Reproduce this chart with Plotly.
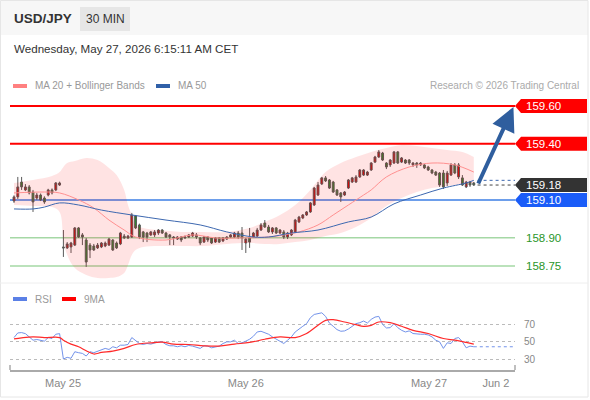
import plotly.graph_objects as go

W, H = 590, 400
FONT = "Liberation Sans, Arial, sans-serif"

# ---------------- data ----------------
candle_open = [159.095, 159.117, 159.196, 159.154, 159.170, 159.143, 159.111, 159.127, 159.111, 159.127,
               159.154, 159.154, 159.180, 158.851, 158.846, 158.851, 158.861, 158.952, 158.915, 158.888,
               158.861, 158.856, 158.846, 158.851, 158.856, 158.861, 158.888, 158.872, 158.867, 158.909,
               158.899, 158.904, 159.016, 158.968, 158.931, 158.925, 158.915, 158.915, 158.925, 158.941,
               158.925, 158.915, 158.904, 158.893, 158.904, 158.899, 158.904, 158.909, 158.915, 158.899,
               158.877, 158.904, 158.899, 158.877, 158.899, 158.883, 158.893, 158.904, 158.904, 158.925,
               158.925, 158.872, 158.899, 158.904, 158.909, 158.941, 158.978, 158.957, 158.931, 158.952,
               158.925, 158.931, 158.904, 158.915, 158.931, 158.984, 159.005, 159.021, 159.037, 159.074,
               159.127, 159.186, 159.218, 159.207, 159.196, 159.154, 159.138, 159.127, 159.164, 159.196,
               159.196, 159.223, 159.233, 159.233, 159.260, 159.302, 159.329, 159.350, 159.297, 159.287,
               159.297, 159.356, 159.302, 159.313, 159.313, 159.287, 159.297, 159.287, 159.287, 159.276,
               159.260, 159.249, 159.244, 159.244, 159.191, 159.233, 159.287, 159.223, 159.218, 159.170,
               159.196, 159.191]
candle_high = [159.125, 159.223, 159.223, 159.185, 159.180, 159.154, 159.138, 159.135, 159.120, 159.160,
               159.162, 159.196, 159.198, 158.941, 158.877, 158.878, 158.957, 158.957, 158.925, 158.899,
               158.872, 158.867, 158.872, 158.877, 158.880, 158.899, 158.893, 158.880, 158.931, 158.920,
               158.915, 159.032, 159.021, 158.975, 158.936, 158.931, 158.936, 158.941, 158.946, 158.946,
               158.931, 158.920, 158.909, 158.909, 158.909, 158.912, 158.920, 158.931, 158.925, 158.904,
               158.909, 158.909, 158.904, 158.904, 158.904, 158.904, 158.909, 158.920, 158.931, 158.936,
               158.957, 158.899, 158.952, 158.931, 158.952, 158.978, 158.994, 158.968, 158.957, 158.957,
               158.946, 158.941, 158.931, 158.946, 159.000, 159.016, 159.026, 159.042, 159.090, 159.170,
               159.196, 159.223, 159.228, 159.212, 159.202, 159.159, 159.143, 159.148, 159.212, 159.223,
               159.233, 159.265, 159.265, 159.255, 159.302, 159.335, 159.366, 159.356, 159.302, 159.318,
               159.361, 159.361, 159.329, 159.318, 159.318, 159.302, 159.302, 159.302, 159.292, 159.282,
               159.265, 159.255, 159.249, 159.260, 159.255, 159.297, 159.297, 159.297, 159.233, 159.202,
               159.202, 159.196]
candle_low = [159.085, 159.106, 159.154, 159.148, 159.130, 159.037, 159.101, 159.095, 159.080, 159.120,
              159.130, 159.148, 159.175, 158.798, 158.840, 158.819, 158.856, 158.899, 158.861, 158.745,
              158.792, 158.830, 158.840, 158.845, 158.850, 158.856, 158.830, 158.840, 158.861, 158.893,
              158.893, 158.899, 158.946, 158.893, 158.877, 158.877, 158.909, 158.904, 158.915, 158.920,
              158.899, 158.861, 158.861, 158.888, 158.877, 158.893, 158.899, 158.904, 158.893, 158.861,
              158.872, 158.877, 158.867, 158.872, 158.872, 158.877, 158.888, 158.899, 158.899, 158.893,
              158.835, 158.819, 158.846, 158.899, 158.904, 158.936, 158.952, 158.925, 158.920, 158.920,
              158.920, 158.893, 158.893, 158.909, 158.925, 158.978, 158.999, 159.016, 159.032, 159.069,
              159.122, 159.180, 159.196, 159.159, 159.138, 159.122, 159.090, 159.122, 159.159, 159.191,
              159.191, 159.218, 159.228, 159.228, 159.255, 159.297, 159.324, 159.308, 159.265, 159.276,
              159.292, 159.292, 159.297, 159.292, 159.287, 159.276, 159.271, 159.282, 159.265, 159.255,
              159.238, 159.228, 159.170, 159.159, 159.175, 159.228, 159.238, 159.212, 159.175, 159.164,
              159.170, 159.175]
candle_close = [159.117, 159.170, 159.170, 159.170, 159.138, 159.090, 159.127, 159.101, 159.090, 159.154,
                159.138, 159.191, 159.191, 158.846, 158.867, 158.872, 158.952, 158.904, 158.904, 158.771,
                158.835, 158.835, 158.861, 158.872, 158.872, 158.893, 158.835, 158.846, 158.925, 158.899,
                158.909, 159.021, 158.952, 158.904, 158.904, 158.904, 158.931, 158.931, 158.941, 158.925,
                158.904, 158.904, 158.899, 158.904, 158.888, 158.904, 158.915, 158.925, 158.904, 158.872,
                158.904, 158.888, 158.872, 158.899, 158.877, 158.899, 158.904, 158.915, 158.925, 158.904,
                158.899, 158.893, 158.877, 158.925, 158.941, 158.968, 158.957, 158.931, 158.952, 158.925,
                158.941, 158.904, 158.925, 158.941, 158.994, 159.010, 159.021, 159.037, 159.085, 159.164,
                159.180, 159.218, 159.202, 159.164, 159.143, 159.127, 159.117, 159.143, 159.207, 159.218,
                159.223, 159.260, 159.260, 159.249, 159.297, 159.329, 159.356, 159.313, 159.276, 159.313,
                159.356, 159.297, 159.324, 159.297, 159.297, 159.297, 159.287, 159.297, 159.271, 159.260,
                159.244, 159.233, 159.180, 159.170, 159.244, 159.287, 159.244, 159.287, 159.180, 159.196,
                159.180, 159.180]

ma20_idx = [0, 8, 12, 17, 21, 25, 29, 32, 40, 47, 53, 60, 67, 71, 75, 80, 84, 88, 92, 94, 98, 104, 110, 116, 121]
ma20_val = [159.138, 159.143, 159.138, 159.101, 159.058, 158.994, 158.941, 158.904, 158.888, 158.915,
            158.899, 158.899, 158.904, 158.915, 158.931, 158.968, 159.021, 159.074, 159.127, 159.154,
            159.223, 159.276, 159.297, 159.287, 159.249]

ma50_idx = [0, 5, 8, 12, 17, 23, 31, 40, 49, 56, 63, 67, 73, 80, 88, 94, 100, 107, 113, 119, 121]
ma50_val = [159.053, 159.053, 159.063, 159.085, 159.074, 159.047, 159.021, 158.994, 158.968, 158.931,
            158.904, 158.904, 158.925, 158.941, 158.984, 159.010, 159.080, 159.127, 159.164, 159.191, 159.205]

bb_idx = [0, 5, 10, 12, 13, 14, 16, 19, 22, 25, 27, 29, 30, 31, 32, 34, 38, 44, 50, 56, 62, 66, 70, 74,
          78, 82, 86, 90, 94, 98, 102, 106, 110, 114, 118, 121]
bb_upper = [159.191, 159.207, 159.228, 159.249, 159.276, 159.297, 159.308, 159.324, 159.313, 159.271,
            159.233, 159.154, 159.074, 159.021, 158.968, 158.952, 158.941, 158.931, 158.931, 158.931,
            158.952, 158.984, 159.021, 159.074, 159.154, 159.249, 159.297, 159.329, 159.356, 159.377,
            159.393, 159.388, 159.377, 159.366, 159.356, 159.329]
bb_lower = [159.074, 159.069, 159.063, 159.037, 158.888, 158.808, 158.739, 158.702, 158.686, 158.686,
            158.691, 158.713, 158.755, 158.808, 158.835, 158.851, 158.856, 158.856, 158.856, 158.867,
            158.872, 158.867, 158.867, 158.877, 158.888, 158.909, 158.925, 158.957, 159.005, 159.069,
            159.111, 159.143, 159.164, 159.175, 159.186, 159.191]

rsi_val = [54.5, 59.8, 60.2, 59.0, 55.3, 51.5, 52.3, 51.5, 50.4, 54.5,
           53.4, 58.3, 59.0, 30.0, 31.9, 30.8, 38.3, 37.2, 36.4, 33.4,
           38.3, 37.2, 39.0, 40.2, 42.1, 40.9, 44.0, 42.8, 45.8, 45.8,
           46.6, 54.5, 51.5, 47.7, 46.6, 47.7, 47.0, 48.5, 49.6, 49.6,
           46.6, 45.1, 45.1, 44.0, 45.1, 44.0, 45.5, 44.7, 43.2, 42.1,
           45.1, 44.7, 42.8, 44.0, 44.7, 47.7, 49.6, 49.6, 51.5, 47.7,
           48.5, 50.4, 52.6, 56.0, 60.9, 61.7, 60.2, 58.3, 55.3,
           52.6, 49.6, 47.7, 51.5, 55.3, 60.9, 64.7, 67.4, 70.4, 77.2,
           80.9, 82.1, 82.8, 78.7, 71.1, 67.4, 63.6, 61.7, 62.1, 64.3,
           67.4, 70.4, 71.5, 73.4, 71.1, 75.3, 77.9, 78.7, 69.6, 65.5,
           65.8, 70.4, 65.8, 62.8, 60.9, 62.1, 59.1, 58.3, 58.3, 58.3,
           57.5, 55.3, 51.5, 49.6, 42.1, 48.5, 47.7, 53.4, 54.5, 49.6,
           42.8, 44.7, 44.0]
rsi_ma_idx = [0, 2, 5, 8, 12, 13, 15, 17, 19, 21, 23, 26, 29, 32, 36, 39, 42, 46, 50, 54, 58, 62, 66, 70,
              74, 77, 80, 82, 84, 87, 90, 92, 94, 96, 99, 102, 105, 109, 113, 116, 119, 121]
rsi_ma_val = [53.0, 54.2, 55.3, 54.5, 54.5, 51.5, 47.0, 44.0, 39.4, 35.7, 37.5, 39.1, 42.1, 46.6, 48.5,
              49.2, 47.0, 46.6, 45.1, 44.7, 47.0, 48.9, 52.6, 55.3, 54.5, 59.1, 68.5, 74.2, 74.9, 72.3,
              69.2, 67.4, 68.5, 72.3, 71.5, 67.4, 62.8, 59.1, 53.4, 51.5, 48.9, 47.0]

resistance_levels = [159.60, 159.40]
last_price = 159.18
pivot_level = 159.10
support_levels = [158.90, 158.75]
target_price = 159.60

x_tick_pos = [12.9, 61.0, 109.2, 126.8]
x_tick_text = ["May 25", "May 26", "May 27", "Jun 2"]
rsi_ticks = [30, 50, 70]

# ---------------- layout helpers ----------------
def pxx(x):
    return x / W

def pxy(y):
    return 1 - y / H

X_L, X_R = 10, 515
FIRST_PX, STEP_PX = 14, 3.8
x_range = [(X_L - FIRST_PX) / STEP_PX, (X_R - FIRST_PX) / STEP_PX]
MAIN_TOP, MAIN_BOT = 95, 282
PX_PER_UNIT = 188.2
REF_P, REF_Y = 159.60, 106
y_range = [REF_P - (MAIN_BOT - REF_Y) / PX_PER_UNIT, REF_P + (REF_Y - MAIN_TOP) / PX_PER_UNIT]
RSI_TOP, RSI_BOT = 300, 370
RSI_PX = 0.875
rsi_range = [70 - (RSI_BOT - 324) / RSI_PX, 70 + (324 - RSI_TOP) / RSI_PX]

n = len(candle_close)
idx = list(range(n))

fig = go.Figure()

# Bollinger band
fig.add_trace(go.Scatter(x=bb_idx, y=bb_upper, mode="lines", line=dict(width=0, shape="spline"),
                         hoverinfo="skip", showlegend=False))
fig.add_trace(go.Scatter(x=bb_idx, y=bb_lower, mode="lines", line=dict(width=0, shape="spline"),
                         fill="tonexty", fillcolor="rgba(255,0,0,0.11)", hoverinfo="skip", showlegend=False))
# MA20 / MA50
fig.add_trace(go.Scatter(x=ma20_idx, y=ma20_val, mode="lines",
                         line=dict(color="#ff9090", width=1, shape="spline"), showlegend=False))
fig.add_trace(go.Scatter(x=ma50_idx, y=ma50_val, mode="lines",
                         line=dict(color="#3d68b0", width=1, shape="spline"), showlegend=False))
# projections (dotted)
fig.add_trace(go.Scatter(x=[ma50_idx[-1] + 1, x_range[1]], y=[ma50_val[-1]] * 2, mode="lines",
                         line=dict(color="#3d68b0", width=1, dash="dot"), showlegend=False))
fig.add_trace(go.Scatter(x=[idx[-1] + 1, x_range[1]], y=[last_price] * 2, mode="lines",
                         line=dict(color="#444444", width=1, dash="dot"), showlegend=False))
# candles
fig.add_trace(go.Candlestick(
    x=idx, open=candle_open, high=candle_high, low=candle_low, close=candle_close,
    increasing=dict(line=dict(color="#5a5a5a", width=1), fillcolor="#e00000"),
    decreasing=dict(line=dict(color="#5a5a5a", width=1), fillcolor="#2a8a2a"),
    whiskerwidth=0, showlegend=False))

# RSI panel
fig.add_trace(go.Scatter(x=idx, y=rsi_val, mode="lines", line=dict(color="#7393ea", width=1),
                         xaxis="x2", yaxis="y2", showlegend=False))
fig.add_trace(go.Scatter(x=rsi_ma_idx, y=rsi_ma_val, mode="lines",
                         line=dict(color="#ff2a2a", width=1.2, shape="spline"),
                         xaxis="x2", yaxis="y2", showlegend=False))
fig.add_trace(go.Scatter(x=[idx[-1], x_range[1]], y=[rsi_val[-1]] * 2, mode="lines",
                         line=dict(color="#7393ea", width=1, dash="dot"),
                         xaxis="x2", yaxis="y2", showlegend=False))

shapes = []
annotations = []

# frame / header
shapes.append(dict(type="rect", xref="paper", yref="paper", x0=pxx(0), x1=pxx(588), y0=pxy(35), y1=pxy(0),
                   fillcolor="#f7f7f7", line=dict(width=0), layer="below"))
shapes.append(dict(type="rect", xref="paper", yref="paper", x0=pxx(0.5), x1=pxx(588), y0=pxy(397), y1=pxy(0.5),
                   fillcolor="rgba(0,0,0,0)", line=dict(color="#e6e6e6", width=1)))
shapes.append(dict(type="line", xref="paper", yref="paper", x0=0, x1=pxx(588), y0=pxy(283), y1=pxy(283),
                   line=dict(color="#eeeeee", width=1)))
shapes.append(dict(type="rect", xref="paper", yref="paper", x0=pxx(80), x1=pxx(130), y0=pxy(31), y1=pxy(7),
                   fillcolor="#e6e6e6", line=dict(width=0)))
annotations.append(dict(text="<b>USD/JPY</b>", x=pxx(12), y=pxy(19), xref="paper", yref="paper",
                        xanchor="left", yanchor="middle", showarrow=False,
                        font=dict(size=13.5, color="#333333", family=FONT)))
annotations.append(dict(text="30 MIN", x=pxx(105), y=pxy(19), xref="paper", yref="paper",
                        xanchor="center", yanchor="middle", showarrow=False,
                        font=dict(size=12, color="#333333", family=FONT)))
annotations.append(dict(text="Wednesday, May 27, 2026 6:15:11 AM CET", x=pxx(12), y=pxy(48),
                        xref="paper", yref="paper", xanchor="left", yanchor="middle", showarrow=False,
                        font=dict(size=11.6, color="#333333", family=FONT)))

# legends
def legend_item(x_sw, y, color, label):
    shapes.append(dict(type="rect", xref="paper", yref="paper", x0=pxx(x_sw), x1=pxx(x_sw + 14),
                       y0=pxy(y + 2), y1=pxy(y - 2), fillcolor=color, line=dict(width=0)))
    annotations.append(dict(text=label, x=pxx(x_sw + 20), y=pxy(y), xref="paper", yref="paper",
                            xanchor="left", yanchor="middle", showarrow=False,
                            font=dict(size=10, color="#999999", family=FONT)))

legend_item(13, 86, "#ff8080", "MA 20 + Bollinger Bands")
legend_item(156, 86, "#3060a8", "MA 50")
legend_item(13, 299, "#5b80e6", "RSI")
legend_item(62, 299, "#ff0000", "9MA")
annotations.append(dict(text="Research © 2026 Trading Central", x=pxx(581), y=pxy(86), xref="paper",
                        yref="paper", xanchor="right", yanchor="middle", showarrow=False,
                        font=dict(size=10, color="#aaaaaa", family=FONT)))

# price levels
HALF = 7 / PX_PER_UNIT

def tag(v, bg):
    path = (f"M {pxx(515)},{v} L {pxx(521)},{v + HALF} L {pxx(587)},{v + HALF} "
            f"L {pxx(587)},{v - HALF} L {pxx(521)},{v - HALF} Z")
    shapes.append(dict(type="path", xref="paper", yref="y", path=path, fillcolor=bg, line=dict(width=0)))
    annotations.append(dict(text=f"{v:.2f}", x=pxx(524), y=v, xref="paper", yref="y", xanchor="left",
                            yanchor="middle", showarrow=False,
                            font=dict(size=11.5, color="#ffffff", family=FONT)))

for v in resistance_levels:
    shapes.append(dict(type="line", xref="x domain", yref="y", x0=0, x1=1, y0=v, y1=v,
                       line=dict(color="#ff0000", width=2), layer="below"))
    tag(v, "#ff0000")
shapes.append(dict(type="line", xref="x domain", yref="y", x0=0, x1=1, y0=pivot_level, y1=pivot_level,
                   line=dict(color="#6d9eeb", width=2), layer="below"))
tag(pivot_level, "#1a5cf8")
tag(last_price, "#333333")
for v in support_levels:
    shapes.append(dict(type="line", xref="x domain", yref="y", x0=0, x1=1, y0=v, y1=v,
                       line=dict(color="#a5d8a5", width=1.5), layer="below"))
    annotations.append(dict(text=f"{v:.2f}", x=pxx(524), y=v, xref="paper", yref="y", xanchor="left",
                            yanchor="middle", showarrow=False,
                            font=dict(size=11.5, color="#2a962a", family=FONT)))

# target arrow
annotations.append(dict(x=x_range[1] - 0.3, y=target_price, ax=idx[-1] + 1, ay=last_price,
                        xref="x", yref="y", axref="x", ayref="y", text="", showarrow=True,
                        arrowhead=2, arrowsize=1.2, arrowwidth=4, arrowcolor="#2f5e9e", standoff=1))

# x axis end brackets
for xd in (0, 1):
    shapes.append(dict(type="line", xref="x2 domain", yref="paper", x0=xd, x1=xd, y0=pxy(370), y1=pxy(365),
                       line=dict(color="#aaaaaa", width=1.5)))

fig.update_layout(
    width=W, height=H, margin=dict(l=0, r=0, t=0, b=0),
    paper_bgcolor="#ffffff", plot_bgcolor="rgba(0,0,0,0)",
    font=dict(family=FONT),
    showlegend=False,
    shapes=shapes, annotations=annotations,
    xaxis=dict(domain=[pxx(X_L), pxx(X_R)], range=x_range, visible=False, fixedrange=True,
               rangeslider=dict(visible=False)),
    yaxis=dict(domain=[pxy(MAIN_BOT), pxy(MAIN_TOP)], range=y_range, visible=False, fixedrange=True),
    xaxis2=dict(domain=[pxx(X_L), pxx(X_R)], range=x_range, anchor="y2", fixedrange=True,
                tickmode="array", tickvals=x_tick_pos, ticktext=x_tick_text,
                showline=True, linecolor="#aaaaaa", linewidth=1.5, ticks="", showgrid=False,
                zeroline=False, ticklabelstandoff=2,
                tickfont=dict(size=11, color="#888888", family=FONT)),
    yaxis2=dict(domain=[pxy(RSI_BOT), pxy(RSI_TOP)], range=rsi_range, anchor="x2", side="right",
                fixedrange=True, tickmode="array", tickvals=rsi_ticks, showgrid=True,
                gridcolor="#bbbbbb", griddash="dot", gridwidth=1, zeroline=False, showline=False,
                ticks="", ticklabelstandoff=8,
                tickfont=dict(size=10, color="#888888", family=FONT)),
)

fig.write_html("out.html", config={"displayModeBar": False},
               post_script="document.body.style.margin='0';document.body.style.overflow='hidden';")
